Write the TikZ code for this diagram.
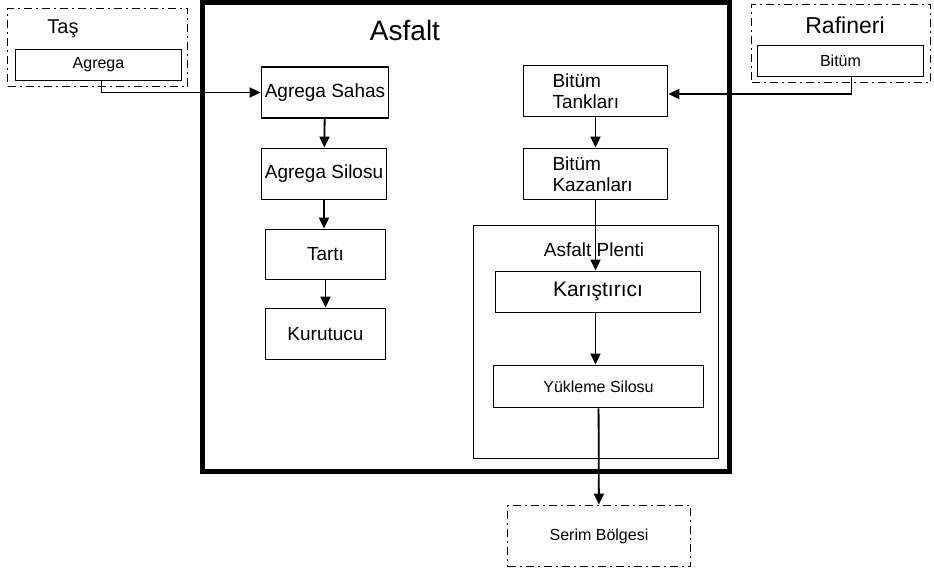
\documentclass[tikz,border=0pt]{standalone}
\usepackage{fontspec}
\setmainfont{Liberation Sans}
\usetikzlibrary{
    positioning,
    arrows.meta,
    calc
}
\newcommand{\fsz}[1]{\fontsize{#1pt}{#1pt}\selectfont}

\begin{document}
\begin{tikzpicture}[
            x=1pt, y=-1pt,
            >={Triangle[length=11pt,width=10pt]},
            line width=1.8pt,
            unit/.style={rectangle, draw, line width=1.8pt, inner sep=0pt, align=center, font=\fsz{19}},
            source/.style={rectangle, draw, line width=1.8pt, dash pattern=on 8pt off 4pt on 2pt off 4pt},
            title/.style={inner sep=0pt},
        ]
        \useasboundingbox (0,0) rectangle (934,572);

        % ===== Asfalt: main box =====
        \draw[line width=5pt] (202.5,2.5) rectangle (729.5,471);
        \node[title, font=\fsz{28}] (asfalt) at (405,30) {Asfalt};

        % ===== Taş =====
        \node[source, minimum width=180, minimum height=78] (tas) at (97.5,47.5) {};
        \node[title, font=\fsz{20}] (taslbl) at (63,29) {Taş};
        \node[unit, minimum width=166, minimum height=31, font=\fsz{16}] (agrega) at (98.5,65) {Agrega};

        % ===== Rafineri =====
        \node[source, minimum width=179, minimum height=78] (raf) at (841,43.5) {};
        \node[title, font=\fsz{23}] (raflbl) at (845,25) {Rafineri};
        \node[unit, minimum width=166, minimum height=31, font=\fsz{16}] (bitum) at (840.5,61) {Bitüm};

        % ===== agrega line =====
        \node[unit, minimum width=127, minimum height=51] (sahas) at (325,92.5) {Agrega Sahas};
        \node[unit, minimum width=125, minimum height=51] (silosu) at (324,174) {Agrega Silosu};
        \node[unit, minimum width=120, minimum height=50] (tarti) at (325.5,254.5) {Tartı};
        \node[unit, minimum width=120, minimum height=51] (kurutucu) at (325.5,334) {Kurutucu};

        % ===== bitum line =====
        \node[unit, minimum width=144, minimum height=51, text width=86, align=left, font=\fontsize{19pt}{21pt}\selectfont] (tanklari) at (595.5,91) {Bitüm\\Tankları};
        \node[unit, minimum width=144, minimum height=51, text width=86, align=left, font=\fontsize{19pt}{21pt}\selectfont] (kazanlari) at (595.5,174) {Bitüm\\Kazanları};

        % ===== Asfalt Plenti =====
        \node[rectangle, draw, minimum width=245, minimum height=233] (plenti) at (596,342) {};
        \node[title, font=\fsz{19}] (plentilbl) at (594,250) {Asfalt Plenti};
        \node[unit, minimum width=205, minimum height=41, font=\fsz{21}] (karis) at (598,292) {Karıştırıcı};
        \node[unit, minimum width=210, minimum height=42, font=\fsz{16}] (yukleme) at (598.5,386.5) {Yükleme Silosu};

        % ===== Serim =====
        \node[source, minimum width=183, minimum height=61, font=\fsz{16}] (serim) at (599,536) {Serim Bölgesi};

        % connectors
        \draw[->] ([xshift=3pt]agrega.south) |- (sahas.west);
        \draw[->] ([xshift=11pt]bitum.south) |- ($(tanklari.east)+(0,3)$);
        \draw[->] (sahas) -- (silosu);
        \draw[->] (silosu) -- (silosu |- tarti.north);
        \draw[->] (tarti) -- (kurutucu);
        \draw[->] (tanklari) -- (kazanlari);
        \draw[->] (kazanlari) -- (kazanlari |- karis.north);
        \draw[->] (kazanlari |- karis.south) -- (kazanlari |- yukleme.north);
        \draw[->] (yukleme) -- (serim);
        \end{tikzpicture}
\end{document}
